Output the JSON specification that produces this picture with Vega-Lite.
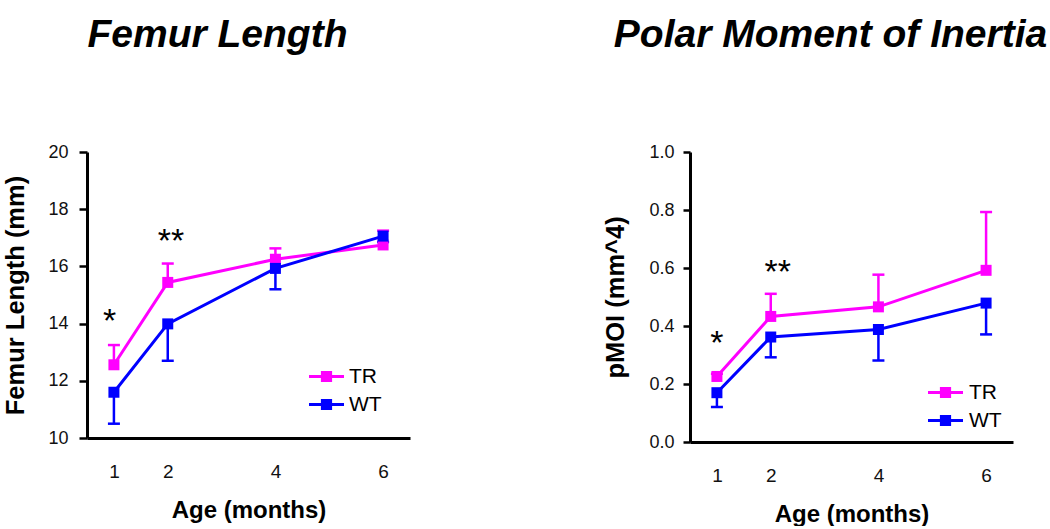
{
  "$schema": "https://vega.github.io/schema/vega-lite/v6.json",
  "padding": {"top": 16, "left": 3, "right": 0, "bottom": 0},
  "background": "white",
  "spacing": 193,
  "config": {
    "view": {"stroke": null},
    "font": "Liberation Sans",
    "axis": {"grid": false, "domainColor": "black", "tickColor": "black", "labelColor": "#111", "titleColor": "black", "labelFont": "Liberation Sans", "titleFont": "Liberation Sans"}
  },
  "datasets": {
    "femur": [
      {"group": "TR", "age": 1, "mean": 12.56, "err": 13.25},
      {"group": "TR", "age": 2, "mean": 15.44, "err": 16.1},
      {"group": "TR", "age": 4, "mean": 16.25, "err": 16.63},
      {"group": "TR", "age": 6, "mean": 16.75, "err": 17.25},
      {"group": "WT", "age": 1, "mean": 11.6, "err": 10.5},
      {"group": "WT", "age": 2, "mean": 13.99, "err": 12.7},
      {"group": "WT", "age": 4, "mean": 15.93, "err": 15.2},
      {"group": "WT", "age": 6, "mean": 17.06, "err": 16.85}
    ],
    "pmoi": [
      {"group": "TR", "age": 1, "mean": 0.226, "err": 0.235},
      {"group": "TR", "age": 2, "mean": 0.433, "err": 0.511},
      {"group": "TR", "age": 4, "mean": 0.466, "err": 0.577},
      {"group": "TR", "age": 6, "mean": 0.592, "err": 0.793},
      {"group": "WT", "age": 1, "mean": 0.17, "err": 0.121},
      {"group": "WT", "age": 2, "mean": 0.362, "err": 0.292},
      {"group": "WT", "age": 4, "mean": 0.388, "err": 0.281},
      {"group": "WT", "age": 6, "mean": 0.479, "err": 0.371}
    ],
    "femurSig": [
      {"age": 0.92, "y": 13.72, "label": "*"},
      {"age": 2.06, "y": 16.51, "label": "**"}
    ],
    "pmoiSig": [
      {"age": 1.0, "y": 0.304, "label": "*"},
      {"age": 2.13, "y": 0.549, "label": "**"}
    ]
  },
  "resolve": {"scale": {"color": "independent", "x": "independent", "y": "independent"}, "legend": {"color": "independent"}},
  "hconcat": [
    {
      "width": 323,
      "height": 286,
      "title": {"text": "Femur Length", "fontSize": 39, "font": "Liberation Sans", "fontWeight": "bold", "fontStyle": "italic", "anchor": "middle", "frame": "group", "dx": -31, "offset": 57, "baseline": "alphabetic", "color": "black"},
      "encoding": {
        "x": {"field": "age", "type": "quantitative", "scale": {"domain": [0.5, 6.5], "nice": false, "zero": false},
          "axis": {"values": [1, 2, 4, 6], "ticks": false, "tickSize": 0, "labelFontSize": 19, "labelPadding": 24, "domainWidth": 3, "title": "Age (months)", "titleFontSize": 24, "titleFontWeight": "bold", "titlePadding": 17}}
      },
      "layer": [
        {
          "data": {"name": "femur"},
          "mark": {"type": "rule", "strokeWidth": 2.5},
          "encoding": {
            "y": {"field": "mean", "type": "quantitative", "title": "Femur Length (mm)", "scale": {"domain": [10, 20], "nice": false, "zero": false},
              "axis": {"values": [10, 12, 14, 16, 18, 20], "tickSize": 8, "tickWidth": 2.5, "domainWidth": 3, "labelFontSize": 18, "labelPadding": 11, "titleFontSize": 25.5, "titleFontWeight": "bold", "titlePadding": 19}},
            "y2": {"field": "err"},
            "color": {"field": "group", "type": "nominal", "scale": {"domain": ["TR", "WT"], "range": ["#ff00ff", "#0000ff"]},
              "legend": {"title": null, "orient": "none", "legendX": 222, "legendY": 207, "symbolType": "M-1,-0.09H1V0.09H-1Z M-0.32,-0.32H0.32V0.32H-0.32Z", "symbolSize": 1225, "symbolStrokeWidth": 0, "labelFontSize": 21, "labelColor": "black", "labelOffset": 5, "rowPadding": 0, "padding": 0, "labelFont": "Liberation Sans",
                "encode": {"symbols": {"update": {"fill": {"signal": "datum.value === 'TR' ? '#ff00ff' : '#0000ff'"}, "stroke": {"value": "transparent"}, "opacity": {"value": 1}}}}}}
          }
        },
        {
          "data": {"name": "femur"},
          "mark": {"type": "tick", "orient": "horizontal", "size": 12, "thickness": 2.5, "opacity": 1},
          "encoding": {
            "y": {"field": "err", "type": "quantitative", "title": "Femur Length (mm)"},
            "color": {"field": "group", "type": "nominal"}
          }
        },
        {
          "data": {"name": "femur"},
          "mark": {"type": "line", "strokeWidth": 3},
          "encoding": {
            "y": {"field": "mean", "type": "quantitative", "title": "Femur Length (mm)"},
            "color": {"field": "group", "type": "nominal"}
          }
        },
        {
          "data": {"name": "femur"},
          "mark": {"type": "square", "size": 121, "opacity": 1},
          "encoding": {
            "y": {"field": "mean", "type": "quantitative", "title": "Femur Length (mm)"},
            "color": {"field": "group", "type": "nominal"}
          }
        },
        {
          "data": {"name": "femurSig"},
          "mark": {"type": "text", "fontSize": 34, "font": "Liberation Sans", "color": "black", "baseline": "alphabetic", "align": "center"},
          "encoding": {
            "y": {"field": "y", "type": "quantitative", "title": "Femur Length (mm)"},
            "text": {"field": "label"}
          }
        }
      ]
    },
    {
      "width": 323,
      "height": 290,
      "title": {"text": "Polar Moment of Inertia", "fontSize": 39, "font": "Liberation Sans", "fontWeight": "bold", "fontStyle": "italic", "anchor": "middle", "frame": "group", "dx": -21, "offset": 57, "baseline": "alphabetic", "color": "black"},
      "encoding": {
        "x": {"field": "age", "type": "quantitative", "scale": {"domain": [0.5, 6.5], "nice": false, "zero": false},
          "axis": {"values": [1, 2, 4, 6], "ticks": false, "tickSize": 0, "labelFontSize": 19, "labelPadding": 24, "domainWidth": 3, "title": "Age (months)", "titleFontSize": 24, "titleFontWeight": "bold", "titlePadding": 17}}
      },
      "layer": [
        {
          "data": {"name": "pmoi"},
          "mark": {"type": "rule", "strokeWidth": 2.5},
          "encoding": {
            "y": {"field": "mean", "type": "quantitative", "title": "pMOI (mm^4)", "scale": {"domain": [0, 1], "nice": false, "zero": false},
              "axis": {"values": [0, 0.2, 0.4, 0.6, 0.8, 1.0], "format": ".1f", "tickSize": 7, "tickWidth": 2.5, "domainWidth": 3, "labelFontSize": 18, "labelPadding": 9, "titleFontSize": 25.5, "titleFontWeight": "bold", "titlePadding": 20}},
            "y2": {"field": "err"},
            "color": {"field": "group", "type": "nominal", "scale": {"domain": ["TR", "WT"], "range": ["#ff00ff", "#0000ff"]},
              "legend": {"title": null, "orient": "none", "legendX": 238, "legendY": 223, "symbolType": "M-1,-0.09H1V0.09H-1Z M-0.32,-0.32H0.32V0.32H-0.32Z", "symbolSize": 1225, "symbolStrokeWidth": 0, "labelFontSize": 21, "labelColor": "black", "labelOffset": 6, "rowPadding": 0, "padding": 0, "labelFont": "Liberation Sans",
                "encode": {"symbols": {"update": {"fill": {"signal": "datum.value === 'TR' ? '#ff00ff' : '#0000ff'"}, "stroke": {"value": "transparent"}, "opacity": {"value": 1}}}}}}
          }
        },
        {
          "data": {"name": "pmoi"},
          "mark": {"type": "tick", "orient": "horizontal", "size": 12, "thickness": 2.5, "opacity": 1},
          "encoding": {
            "y": {"field": "err", "type": "quantitative", "title": "pMOI (mm^4)"},
            "color": {"field": "group", "type": "nominal"}
          }
        },
        {
          "data": {"name": "pmoi"},
          "mark": {"type": "line", "strokeWidth": 3},
          "encoding": {
            "y": {"field": "mean", "type": "quantitative", "title": "pMOI (mm^4)"},
            "color": {"field": "group", "type": "nominal"}
          }
        },
        {
          "data": {"name": "pmoi"},
          "mark": {"type": "square", "size": 121, "opacity": 1},
          "encoding": {
            "y": {"field": "mean", "type": "quantitative", "title": "pMOI (mm^4)"},
            "color": {"field": "group", "type": "nominal"}
          }
        },
        {
          "data": {"name": "pmoiSig"},
          "mark": {"type": "text", "fontSize": 34, "font": "Liberation Sans", "color": "black", "baseline": "alphabetic", "align": "center"},
          "encoding": {
            "y": {"field": "y", "type": "quantitative", "title": "pMOI (mm^4)"},
            "text": {"field": "label"}
          }
        }
      ]
    }
  ]
}
